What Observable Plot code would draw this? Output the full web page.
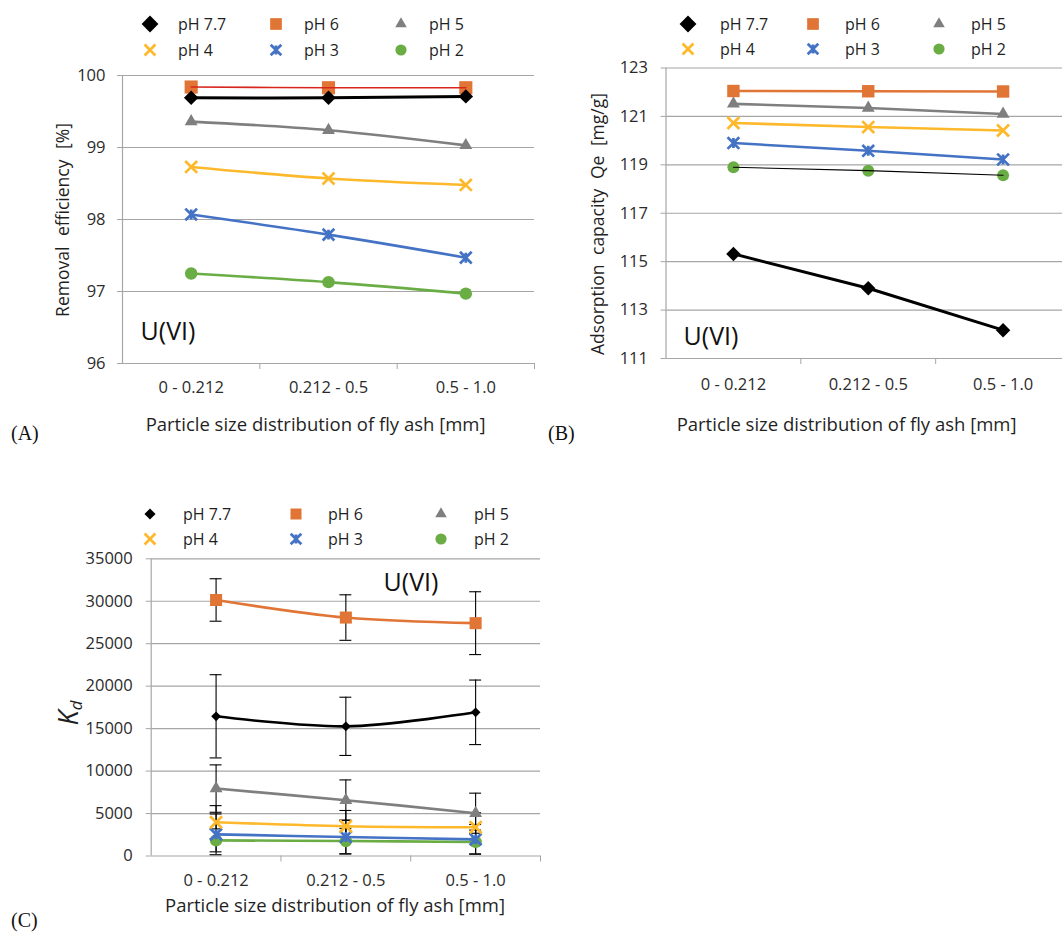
<!DOCTYPE html>
<html><head><meta charset="utf-8">
<script src="https://cdn.jsdelivr.net/npm/d3@7"></script>
<script src="https://cdn.jsdelivr.net/npm/@observablehq/plot@0.6"></script>
<style>
html,body{margin:0;padding:0;width:1062px;height:932px;overflow:hidden;background:#fff;}
#root{position:relative;width:1062px;height:932px;font-family:"Open Sans",sans-serif;color:#1f1f1f;}
.abs{position:absolute;white-space:pre;line-height:1;}
.rot{transform:translate(-50%,-50%) rotate(-90deg);}
.ctr{transform:translate(-50%,-50%);}
.vc{transform:translateY(-50%);}
.letter{font-family:"Liberation Serif","Times New Roman",serif;font-size:20px;color:#111;}
.title{font-size:18.5px;}
.ytitle{font-size:17.5px;}
.uvi{font-size:25px;color:#111;}
.panel{position:absolute;}
</style></head><body><div id="root"></div>
<script>
// ---------- data ----------
const categories = ["0 - 0.212", "0.212 - 0.5", "0.5 - 1.0"];
const seriesLabels = ["pH 7.7", "pH 6", "pH 5", "pH 4", "pH 3", "pH 2"];
const seriesColors = ["#000000", "#E07536", "#7F7F7F", "#FDB92B", "#4472C4", "#6AAD45"];

// (A) Removal efficiency [%]
const removal77 = [99.69, 99.69, 99.71];
const removal6  = [99.84, 99.83, 99.83];
const removal5  = [99.36, 99.24, 99.03];
const removal4  = [98.73, 98.57, 98.48];
const removal3  = [98.07, 97.79, 97.47];
const removal2  = [97.25, 97.13, 96.97];
const removalTicks = [96, 97, 98, 99, 100];

// (B) Adsorption capacity Qe [mg/g]
const qe77 = [115.32, 113.90, 112.17];
const qe6  = [122.05, 122.04, 122.03];
const qe5  = [121.52, 121.35, 121.10];
const qe4  = [120.73, 120.56, 120.42];
const qe3  = [119.90, 119.58, 119.22];
const qe2  = [118.90, 118.76, 118.57];
const qeTicks = [111, 113, 115, 117, 119, 121, 123];

// (C) Kd with error bars
const kd77 = [16450, 15270, 16920];
const kd6  = [30150, 28080, 27420];
const kd5  = [7940, 6570, 5040];
const kd4  = [3980, 3510, 3390];
const kd3  = [2550, 2240, 1960];
const kd2  = [1840, 1760, 1650];
const kdErr77 = [4900, 3430, 3800];
const kdErr6  = [2500, 2680, 3700];
const kdErr5  = [2790, 2390, 2360];
const kdErr4  = [1950, 1850, 1700];
const kdErr3  = [2400, 2000, 1750];
const kdErr2  = [1350, 1500, 1400];
const kdTicks = [0, 5000, 10000, 15000, 20000, 25000, 30000, 35000];

// ---------- styling ----------
const GRID = "#A6A6A6";
const TXT = "#2b2b2b";
const FONT = "'Open Sans', sans-serif";
const starSymbol = {
  draw(ctx, size) {
    const r = Math.sqrt(size) * 0.6;
    ctx.moveTo(-r, -r); ctx.lineTo(r, r);
    ctx.moveTo(-r, r); ctx.lineTo(r, -r);
    ctx.moveTo(0, -r * 0.85); ctx.lineTo(0, r * 0.85);
  }
};
const symbols = ["diamond2", "square", "triangle", "times", starSymbol, "circle"];
const strokeSym = [false, false, false, true, true, false];

function rows(vals, errs) {
  return categories.map((c, i) => ({cat: c, x: i + 0.5, v: vals[i], e: errs ? errs[i] : 0}));
}

function makePanel(cfg) {
  const marks = [];
  marks.push(Plot.ruleY(cfg.ticks, {stroke: GRID, strokeWidth: 1.2}));
  marks.push(Plot.ruleX([0], {stroke: GRID, strokeWidth: 1.2}));
  marks.push(Plot.axisY({ticks: cfg.ticks, tickSize: 5, tickPadding: cfg.yPad, stroke: GRID, fill: TXT,
    fontSize: cfg.tickFont, label: null, tickFormat: d => String(d)}));
  marks.push(Plot.axisX({ticks: [1, 2, 3], tickSize: 6, tickFormat: () => "", stroke: GRID, label: null}));
  marks.push(Plot.axisX({ticks: [0.5, 1.5, 2.5], tickSize: 0, tickPadding: cfg.xPad, fill: TXT,
    fontSize: cfg.tickFont, label: null, tickFormat: d => categories[Math.floor(d)]}));
  const data = cfg.values.map((v, i) => rows(v, cfg.errors ? cfg.errors[i] : null));
  if (cfg.errors) {
    const cap = 0.046;
    data.forEach(d => {
      marks.push(Plot.ruleX(d, {x: "x", y1: r => r.v - r.e, y2: r => r.v + r.e, stroke: "#000", strokeWidth: 1.1}));
      marks.push(Plot.ruleY(d, {y: r => r.v + r.e, x1: r => r.x - cap, x2: r => r.x + cap, stroke: "#000", strokeWidth: 1.1}));
      marks.push(Plot.ruleY(d, {y: r => r.v - r.e, x1: r => r.x - cap, x2: r => r.x + cap, stroke: "#000", strokeWidth: 1.1}));
    });
  }
  const late = [];
  for (let i = data.length - 1; i >= 0; i--) {
    const ls = cfg.lineStyle[i];
    const line = Plot.line(data[i], {x: "x", y: "v", stroke: ls.color, strokeWidth: ls.width, curve: cfg.curve});
    if (ls.top) late.push(line); else marks.push(line);
    const r = cfg.markerR[i];
    if (strokeSym[i]) {
      marks.push(Plot.dot(data[i], {x: "x", y: "v", symbol: symbols[i], r, fill: "none", stroke: seriesColors[i], strokeWidth: 2.7}));
    } else {
      marks.push(Plot.dot(data[i], {x: "x", y: "v", symbol: symbols[i], r, fill: seriesColors[i], stroke: "none"}));
    }
  }
  marks.push(...late);
  const svg = Plot.plot({
    width: cfg.width, height: cfg.height,
    marginTop: cfg.m[0], marginRight: cfg.m[1], marginBottom: cfg.m[2], marginLeft: cfg.m[3],
    x: {domain: [0, 3]}, y: {domain: cfg.domain},
    style: {fontFamily: FONT, background: "transparent", overflow: "visible", maxWidth: "none"},
    marks
  });
  svg.classList.add("panel");
  svg.style.left = cfg.left + "px";
  svg.style.top = cfg.top + "px";
  return svg;
}

function legend(root, cfg) {
  const svg = d3.select(root).append("svg").attr("class", "panel")
    .style("left", "0px").style("top", "0px").attr("width", 1062).attr("height", 932)
    .style("overflow", "visible").style("pointer-events", "none");
  seriesLabels.forEach((lab, i) => {
    const row = Math.floor(i / 3), col = i % 3;
    const sx = cfg.sx[col], tx = cfg.tx[col], y = cfg.rows[row];
    const r = cfg.r[i];
    const p = d3.symbol().type(typeof symbols[i] === "string" ? {
      diamond2: d3.symbolDiamond2, square: d3.symbolSquare, triangle: d3.symbolTriangle,
      times: d3.symbolTimes, circle: d3.symbolCircle}[symbols[i]] : symbols[i]).size(Math.PI * r * r)();
    const path = svg.append("path").attr("d", p).attr("transform", `translate(${sx},${y})`);
    if (strokeSym[i]) path.attr("fill", "none").attr("stroke", seriesColors[i]).attr("stroke-width", 2.7);
    else path.attr("fill", seriesColors[i]);
    svg.append("text").attr("x", tx).attr("y", y).attr("dy", "0.35em")
      .attr("font-family", FONT).attr("font-size", cfg.font).attr("fill", "#1f1f1f").text(lab);
  });
}

function label(root, html, cls, x, y, extra) {
  const d = document.createElement("div");
  d.className = "abs " + cls;
  d.style.left = x + "px"; d.style.top = y + "px";
  d.innerHTML = html;
  if (extra) Object.assign(d.style, extra);
  root.appendChild(d);
}

const root = document.getElementById("root");

// Panel A
root.appendChild(makePanel({
  left: 0, top: 0, width: 540, height: 400, m: [75, 6, 37, 122],
  domain: [96, 100], ticks: removalTicks, yPad: 12, xPad: 18, tickFont: 16.5, curve: "catmull-rom",
  values: [removal77, removal6, removal5, removal4, removal3, removal2],
  lineStyle: [{color: "#000", width: 3}, {color: "#D9261C", width: 1.6, top: true}, {color: seriesColors[2], width: 2.6},
              {color: seriesColors[3], width: 2.6}, {color: seriesColors[4], width: 2.6}, {color: seriesColors[5], width: 2.6}],
  markerR: [6.5, 7.4, 4.8, 5.5, 5.5, 6.2]
}));
// Panel B
root.appendChild(makePanel({
  left: 531, top: 0, width: 540, height: 400, m: [67.5, 1, 42, 134.5],
  domain: [111, 123], ticks: qeTicks, yPad: 13, xPad: 20, tickFont: 16.5, curve: "linear",
  values: [qe77, qe6, qe5, qe4, qe3, qe2],
  lineStyle: [{color: "#000", width: 3}, {color: seriesColors[1], width: 2.6}, {color: seriesColors[2], width: 2.6},
              {color: seriesColors[3], width: 2.6}, {color: seriesColors[4], width: 2.6}, {color: "#000", width: 1.1, top: true}],
  markerR: [6.5, 7, 4.8, 5.5, 5.5, 6]
}));
// Panel C
root.appendChild(makePanel({
  left: 0, top: 500, width: 545, height: 400, m: [58.3, 5, 44.5, 150.7],
  domain: [0, 35000], ticks: kdTicks, yPad: 13.5, xPad: 18.5, tickFont: 16.5, curve: "catmull-rom",
  values: [kd77, kd6, kd5, kd4, kd3, kd2],
  errors: [kdErr77, kdErr6, kdErr5, kdErr4, kdErr3, kdErr2],
  lineStyle: [{color: "#000", width: 2.6}, {color: seriesColors[1], width: 2.6}, {color: seriesColors[2], width: 2.6},
              {color: seriesColors[3], width: 2.6}, {color: seriesColors[4], width: 2.6}, {color: seriesColors[5], width: 2.6}],
  markerR: [4.4, 6.8, 4.8, 5.5, 5.5, 6.2]
}));

// Legends
legend(root, {rows: [24, 50], sx: [150, 276, 401], tx: [178, 304, 429], font: 16, r: [7.6, 6.6, 4.3, 5, 5, 5.6]});
legend(root, {rows: [24, 49], sx: [688, 813, 939], tx: [720, 845, 971], font: 16, r: [7.6, 6.6, 4.3, 5, 5, 5.6]});
legend(root, {rows: [514, 539], sx: [150, 296, 441], tx: [183, 328, 474], font: 16, r: [5, 6.2, 4.3, 5, 5, 5.6]});

// Titles and annotations
label(root, "Removal efficiency [%]", "ytitle rot", 62.6, 219.5, {wordSpacing: "6px"});
label(root, "Particle size distribution of fly ash [mm]", "title ctr", 315.6, 424);
label(root, "(A)", "letter vc", 11, 433);
label(root, "U(VI)", "uvi ctr", 168, 330);

label(root, "Adsorption capacity Qe [mg/g]", "ytitle rot", 597.7, 224, {wordSpacing: "5px"});
label(root, "Particle size distribution of fly ash [mm]", "title ctr", 846.6, 424);
label(root, "(B)", "letter vc", 548, 433);
label(root, "U(VI)", "uvi ctr", 711, 335);

label(root, "<i>K</i><sub style='font-size:0.62em;font-style:italic;vertical-align:-0.25em'>d</sub>", "rot", 69, 713, {fontSize: "27px"});
label(root, "Particle size distribution of fly ash [mm]", "title ctr", 335, 905);
label(root, "(C)", "letter vc", 11, 920);
label(root, "U(VI)", "uvi ctr", 411, 581);
</script>
</body></html>
